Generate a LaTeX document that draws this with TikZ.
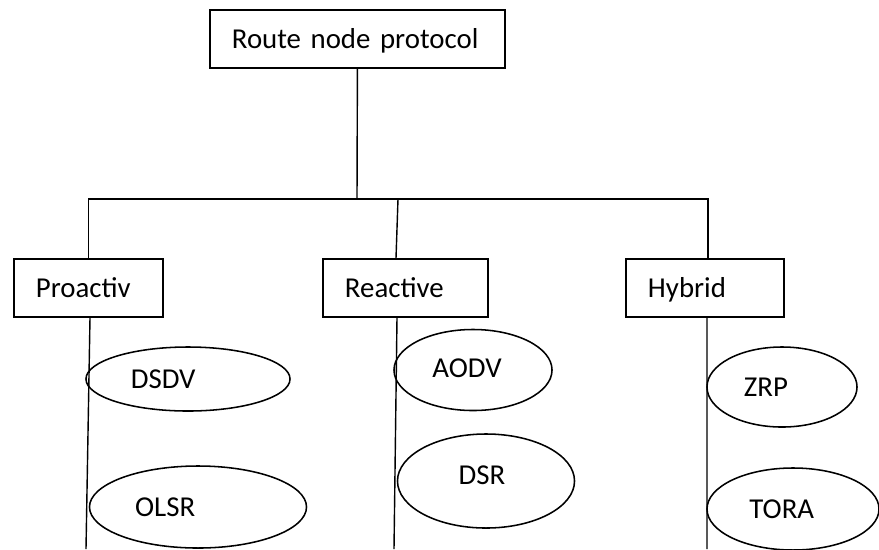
\documentclass[tikz,border=0pt]{standalone}
\usepackage{fontspec}
\setmainfont{Carlito}
\usetikzlibrary{shapes.geometric, positioning, calc}

\begin{document}
\begin{tikzpicture}[
    x=0.025cm, y=-0.025cm,
    font=\fontsize{20.5}{24}\selectfont,
    box/.style={rectangle, draw=black, line width=1pt, minimum height=1.45cm, inner xsep=0.55cm, align=left, text width=#1, text height=13.2pt, text depth=0pt},
    oval/.style={ellipse, draw=black, line width=1.1pt, inner sep=0pt},
    tag/.style={text height=13.2pt, text depth=0pt},
    link/.style={draw=black, line width=1pt}
]
\useasboundingbox (0,0) rectangle (879,549);

% Root
\node[box=6.275cm] (root) at (357.5,39) {Route node protocol};

% Categories
\node[box=2.625cm] (proactiv) at (88.5,288) {Proactiv};
\node[box=3.025cm] (reactive) at (405.5,288) {Reactive};
\node[box=2.85cm] (hybrid) at (705,288) {Hybrid};

% Tree lines
\coordinate (split) at (357,199);
\draw[link] (root) -- (split);
\draw[link] (proactiv.north) -- (proactiv.north |- split) -- ([xshift=0.075cm]hybrid.north |- split) -- ([xshift=0.075cm]hybrid.north);
\draw[link] ([xshift=-0.1875cm]reactive.north |- split) -- ([xshift=-0.2375cm]reactive.north);

% Bottom coordinates
\coordinate (pend) at (86,549);
\coordinate (rend) at (394,549);
\coordinate (hend) at (707,549);
\draw[link] ([xshift=0.0375cm]proactiv.south) -- (pend);
\draw[link] ([xshift=-0.2125cm]reactive.south) -- (rend);
\draw[link] ([xshift=0.05cm]hybrid.south) -- (hend);

% Protocols
\node[oval, minimum width=5.1cm, minimum height=1.6cm, label={[tag, xshift=-0.62cm]center:DSDV}] (dsdv) at (188,379) {};
\node[oval, minimum width=5.425cm, minimum height=2.05cm, label={[tag, xshift=-0.82cm]center:OLSR}] (olsr) at (198,507) {};
\node[oval, minimum width=3.95cm, minimum height=2.025cm, label={[tag, xshift=-0.15cm, yshift=0.05cm]center:AODV}] (aodv) at (473,370) {};
\node[oval, minimum width=4.425cm, minimum height=2.35cm, label={[tag, xshift=-0.1cm, yshift=0.15cm]center:DSR}] (dsr) at (486,481) {};
\node[oval, minimum width=3.75cm, minimum height=2cm, label={[tag, xshift=-0.4cm]center:ZRP}] (zrp) at (782,387) {};
\node[oval, minimum width=4.3cm, minimum height=2.05cm, label={[tag, xshift=-0.28cm]center:TORA}] (tora) at (793,509) {};

\end{tikzpicture}
\end{document}
